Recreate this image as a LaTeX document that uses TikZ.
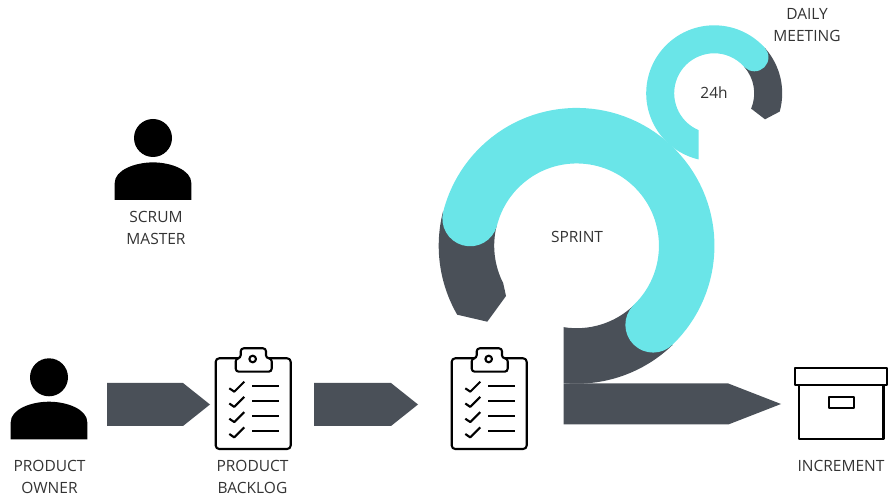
\documentclass[tikz,border=0pt]{standalone}
\usepackage{fontspec}
\setmainfont{Open Sans}
\definecolor{ringcyan}{HTML}{6AE5E8}
\definecolor{slate}{HTML}{4A5058}
\definecolor{labelgray}{HTML}{333333}
\tikzset{
  lbl/.style={text=labelgray,font=\fontsize{15.5pt}{21.7pt}\selectfont,inner sep=0pt,align=center},
  slatefill/.style={fill=slate,draw=none},
  cyanfill/.style={fill=ringcyan,draw=none},
  icon/.style={draw=black,line width=2.1pt,line join=round},
  person/.pic={
    \fill[black] (-38.3,0) -- (38.3,0) -- (38.3,17) .. controls (38.3,30) and (18,37.6) .. (0,37.6)
      .. controls (-18,37.6) and (-38.3,30) .. (-38.3,17) -- cycle;
    \fill[black] (0,62) circle[radius=19pt];
  },
  clipboard/.pic={
    \draw[icon,rounded corners=3.5pt] (0,0) rectangle (75,90.7);
    \draw[icon,fill=white,rounded corners=3pt] (20,77.3) -- (20,90.7) -- (25,90.7) -- (25,100.7) -- (50.3,100.7) -- (50.3,90.7) -- (56,90.7) -- (56,77.3) -- cycle;
    \draw[icon] (37,90) circle[radius=3.3pt];
    \foreach \d in {0,15.2,30.4,45.7}{
      \draw[icon] (13.6,60.7-\d) -- (18.6,57.3-\d) -- (28.6,67.3-\d);
      \draw[icon] (36.6,63.3-\d) -- (63.3,63.3-\d);
    }
  }
}
\begin{document}
\begin{tikzpicture}[x=1pt,y=1pt]
\useasboundingbox (0,0) rectangle (888,495);
\coordinate (big) at (576.7,249.3);
\coordinate (small) at (714.2,401.7);

% small ring (daily meeting)
\fill[slatefill] ([shift={(small)}]41.8:68) arc[start angle=41.8,end angle=-15.6,radius=68pt]
  -- (765,375.7) -- (752,385.7) -- ([shift={(small)}]-22.8:40) arc[start angle=-22.8,end angle=41.8,radius=40pt] -- cycle;
\fill[cyanfill] ([shift={(small)}]41.8:68) arc[start angle=41.8,end angle=256.8,radius=68pt]
  -- ([shift={(small)}]247.2:40) arc[start angle=247.2,end angle=41.8,radius=40pt] -- cycle;
\fill[cyanfill] ([shift={(small)}]41.8:54) circle[radius=14pt];

% big ring (sprint)
\fill[slatefill] ([shift={(big)}]264.6:138) arc[start angle=264.6,end angle=314,radius=138pt]
  -- ([shift={(big)}]314:82.5) arc[start angle=314,end angle=260.9,radius=82.5pt] -- cycle;
\fill[slatefill] ([shift={(big)}]165.7:138) arc[start angle=165.7,end angle=210,radius=138pt]
  -- (487.3,173.3) -- (506,199) -- ([shift={(big)}]207:82.5) arc[start angle=207,end angle=165.7,radius=82.5pt] -- cycle;
\draw[ringcyan,line width=55.5pt,line cap=round] ([shift={(big)}]-46:110) arc[start angle=-46,end angle=165.7,radius=110pt];

% block arrows
\fill[slatefill] (107,112) -- (183,112) -- (210,90.5) -- (183,69) -- (107,69) -- cycle;
\fill[slatefill] (314,112) -- (391,112) -- (418,90.5) -- (391,69) -- (314,69) -- cycle;
\fill[slatefill] (563.5,111.5) -- (728.3,111.5) -- (781,91) -- (728.3,70.5) -- (563.5,70.5) -- cycle;

% icons
\pic (owner) at (49,55.7) {person};
\pic (master) at (153,295) {person};
\pic (backlog) at (215.7,46) {clipboard};
\pic (sprintlog) at (451.7,46) {clipboard};
\draw[icon,line width=2.4pt] (799,55.7) rectangle (883.3,109.7);
\draw[icon,line width=2.4pt,fill=white] (795,109.7) rectangle (886.7,126.7);
\draw[icon,line width=2pt] (828.7,86.7) rectangle (853.7,97.7);

% labels
\node[lbl] (lowner) at (49.5,18) {PRODUCT\\OWNER};
\node[lbl] (lbacklog) at (252.5,18) {PRODUCT\\BACKLOG};
\node[lbl] (lmaster) at (156,267) {SCRUM\\MASTER};
\node[lbl] (lsprint) at (577,258) {SPRINT};
\node[lbl] (l24) at (714,402) {24h};
\node[lbl] (ldaily) at (807,470) {DAILY\\MEETING};
\node[lbl] (lincr) at (841,29) {INCREMENT};
\end{tikzpicture}
\end{document}
